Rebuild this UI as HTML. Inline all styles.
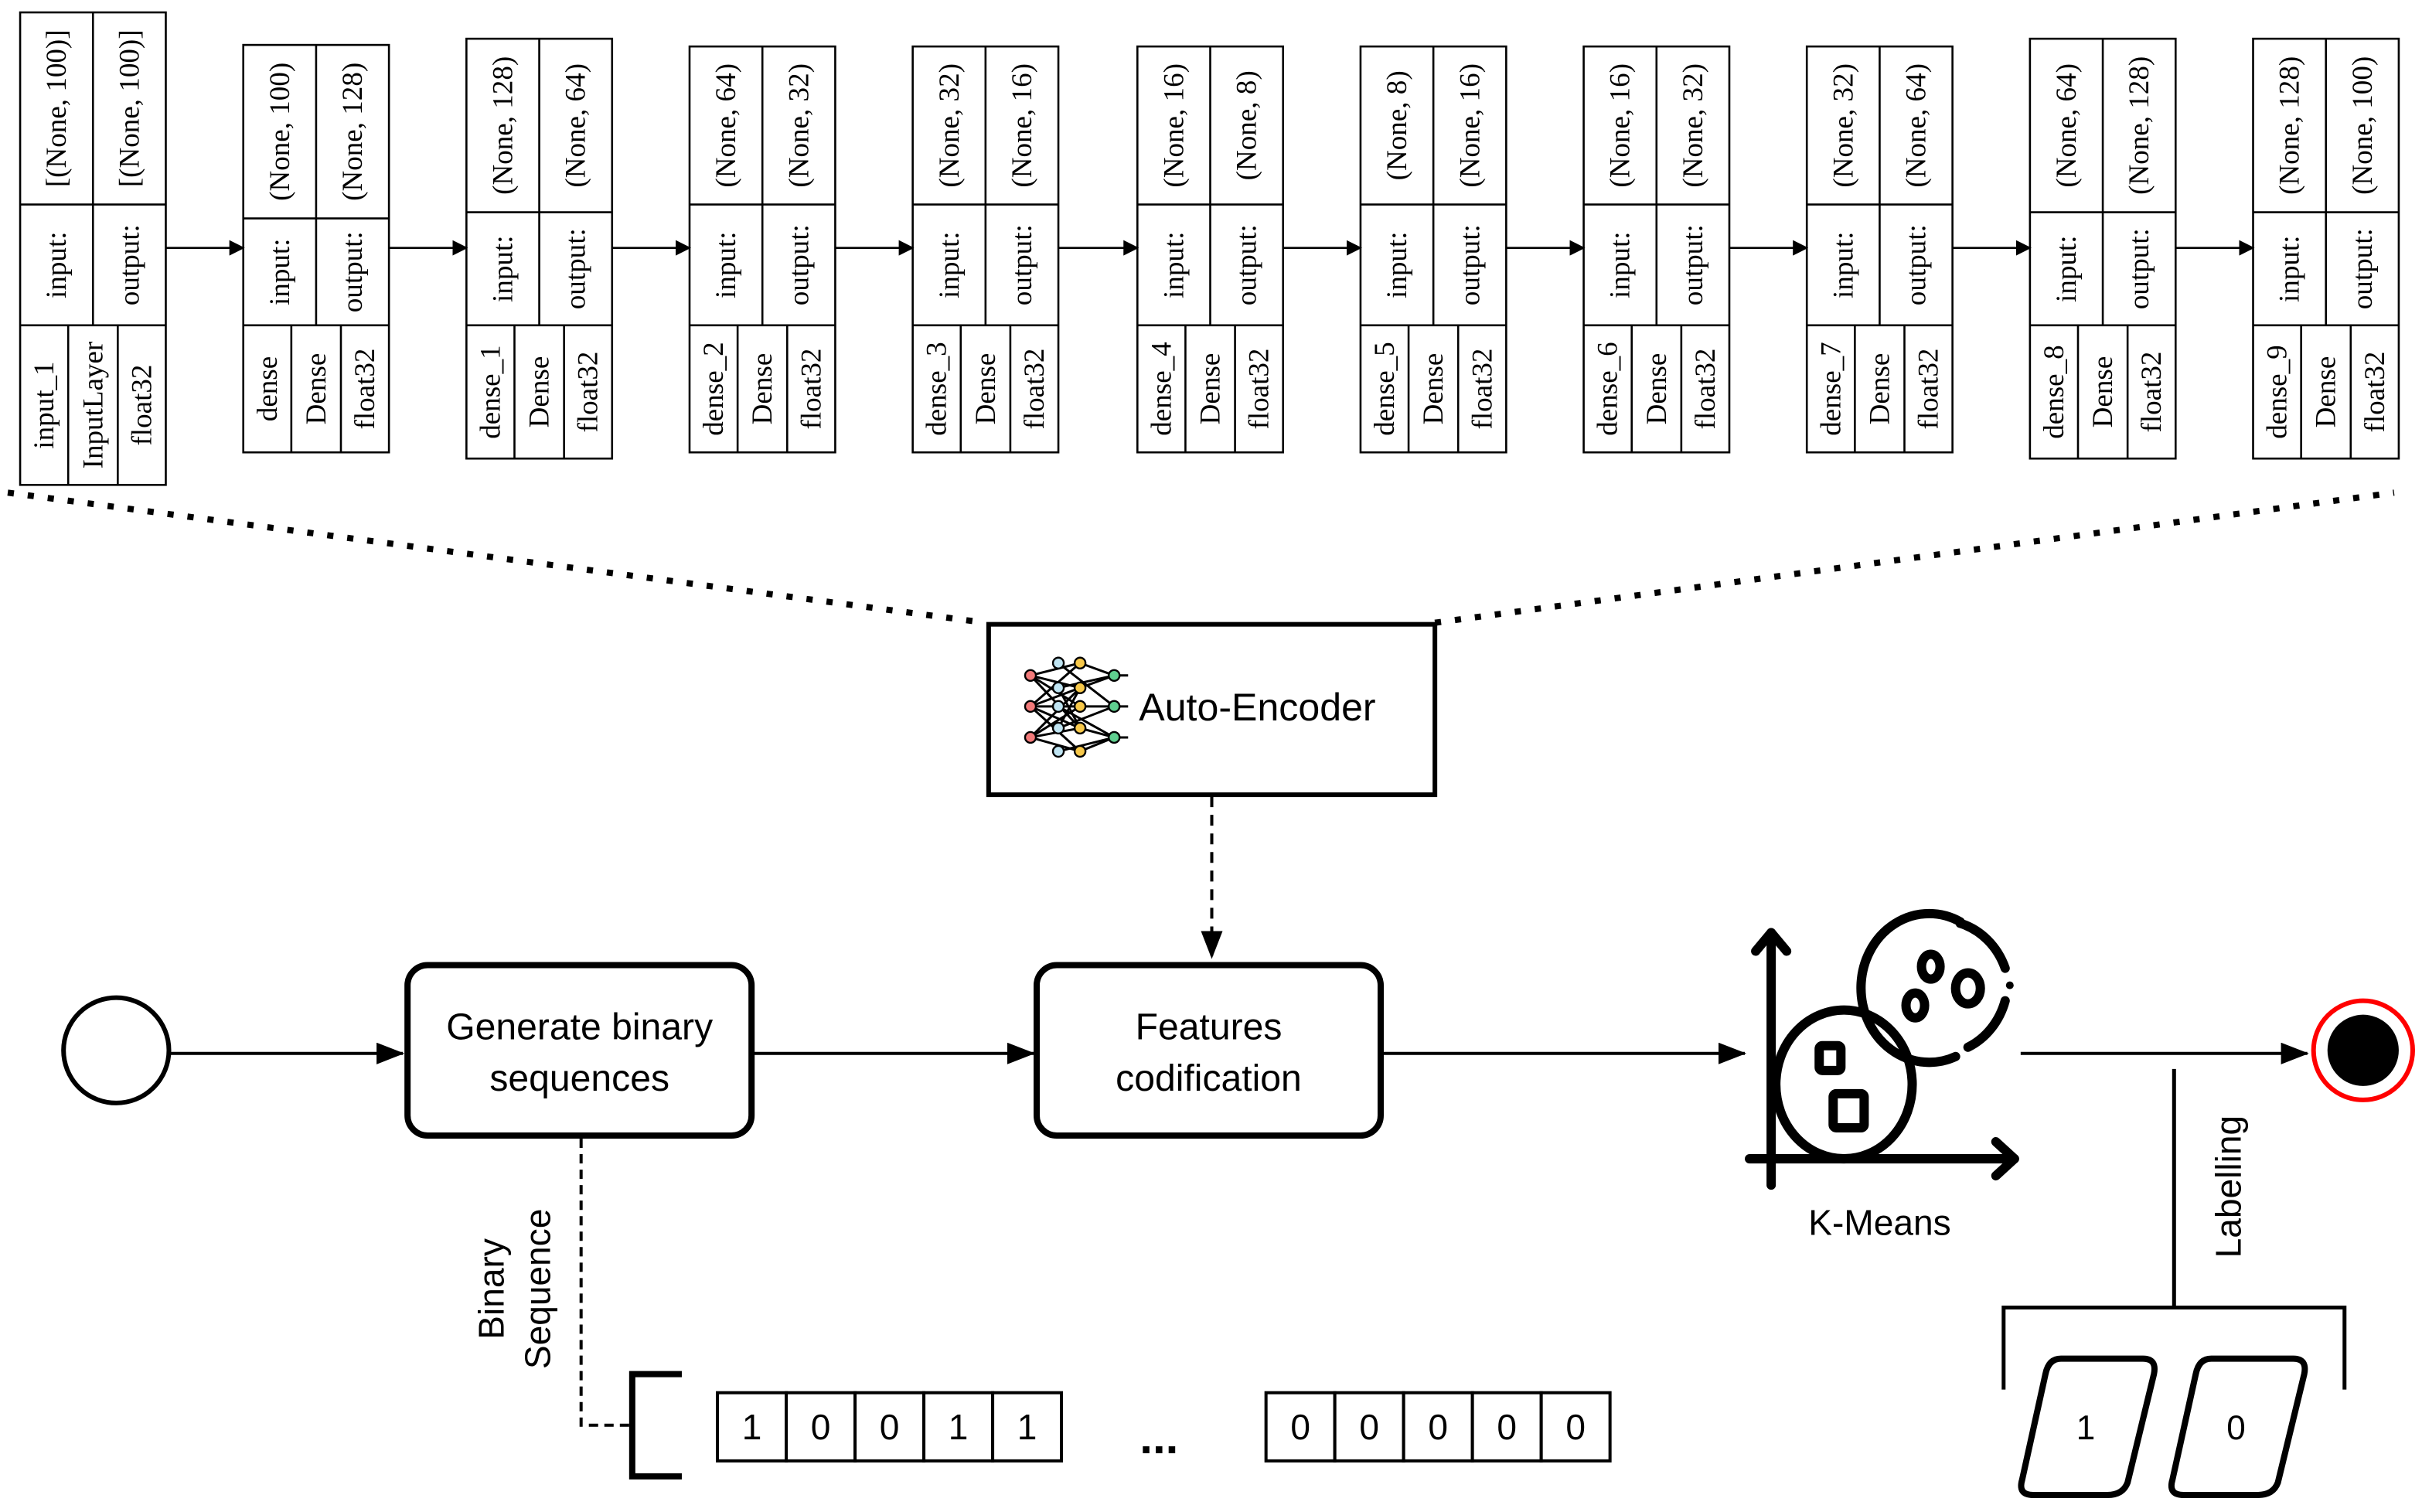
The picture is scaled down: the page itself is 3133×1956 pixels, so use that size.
<!DOCTYPE html>
<html><head><meta charset="utf-8"><style>
html,body{margin:0;padding:0;background:#fff;}
svg{display:block;}
.s{font-family:"Liberation Serif",serif;font-size:18.5px;}
.a{font-family:"Liberation Sans",sans-serif;}
</style></head><body>
<svg id="g" width="3133" height="1956" viewBox="0 0 1563 976" preserveAspectRatio="none" xmlns="http://www.w3.org/2000/svg">
<defs>
<marker id="ah" markerWidth="10" markerHeight="10" refX="9" refY="5" orient="auto" markerUnits="userSpaceOnUse"><path d="M0,0 L10,5 L0,10 z" fill="#000"/></marker>
<marker id="ah2" markerWidth="18" markerHeight="14" refX="17" refY="7" orient="auto" markerUnits="userSpaceOnUse"><path d="M0,0 L18,7 L0,14 z" fill="#000"/></marker>
</defs>
<g id="keras"></g>
<line x1="5" y1="318" x2="636" y2="402" stroke="#000" stroke-width="4" stroke-dasharray="4 9"/>
<line x1="926" y1="402" x2="1545" y2="318" stroke="#000" stroke-width="4" stroke-dasharray="4 9"/>
<rect x="638" y="403" width="288" height="110" fill="#fff" stroke="#000" stroke-width="3"/>
<g stroke="#000" stroke-width="1.5">
<line x1="665" y1="436" x2="697" y2="428"/><line x1="665" y1="436" x2="697" y2="444"/><line x1="665" y1="436" x2="697" y2="456"/><line x1="665" y1="436" x2="697" y2="470"/>
<line x1="665" y1="456" x2="697" y2="428"/><line x1="665" y1="456" x2="697" y2="444"/><line x1="665" y1="456" x2="697" y2="456"/><line x1="665" y1="456" x2="697" y2="470"/><line x1="665" y1="456" x2="697" y2="485"/>
<line x1="665" y1="476" x2="697" y2="444"/><line x1="665" y1="476" x2="697" y2="456"/><line x1="665" y1="476" x2="697" y2="470"/><line x1="665" y1="476" x2="697" y2="485"/>
<line x1="683" y1="428" x2="719" y2="456"/><line x1="683" y1="444" x2="719" y2="436"/><line x1="683" y1="456" x2="719" y2="476"/><line x1="683" y1="470" x2="719" y2="456"/><line x1="683" y1="485" x2="719" y2="476"/>
<line x1="697" y1="428" x2="719" y2="436"/><line x1="697" y1="444" x2="719" y2="436"/><line x1="697" y1="456" x2="719" y2="456"/><line x1="697" y1="470" x2="719" y2="476"/><line x1="697" y1="485" x2="719" y2="476"/>
<line x1="697" y1="444" x2="683" y2="470"/><line x1="697" y1="470" x2="683" y2="444"/>
<line x1="719" y1="436" x2="728" y2="436"/><line x1="719" y1="456" x2="728" y2="456"/><line x1="719" y1="476" x2="728" y2="476"/>
</g>
<g stroke="#000" stroke-width="1.2">
<circle cx="665" cy="436" r="3.5" fill="#f27a7a"/><circle cx="665" cy="456" r="3.5" fill="#f27a7a"/><circle cx="665" cy="476" r="3.5" fill="#f27a7a"/>
<circle cx="683" cy="428" r="3.5" fill="#bfe4f2"/><circle cx="683" cy="444" r="3.5" fill="#bfe4f2"/><circle cx="683" cy="456" r="3.5" fill="#bfe4f2"/><circle cx="683" cy="470" r="3.5" fill="#bfe4f2"/><circle cx="683" cy="485" r="3.5" fill="#bfe4f2"/>
<circle cx="697" cy="428" r="3.5" fill="#f7c84a"/><circle cx="697" cy="444" r="3.5" fill="#f7c84a"/><circle cx="697" cy="456" r="3.5" fill="#f7c84a"/><circle cx="697" cy="470" r="3.5" fill="#f7c84a"/><circle cx="697" cy="485" r="3.5" fill="#f7c84a"/>
<circle cx="719" cy="436" r="3.5" fill="#5fcf8f"/><circle cx="719" cy="456" r="3.5" fill="#5fcf8f"/><circle cx="719" cy="476" r="3.5" fill="#5fcf8f"/>
</g>
<text x="735" y="465" class="a" font-size="25">Auto-Encoder</text>
<line x1="782" y1="514" x2="782" y2="618" stroke="#000" stroke-width="2" stroke-dasharray="7 5" marker-end="url(#ah2)"/>
<circle cx="75" cy="678" r="34" fill="#fff" stroke="#000" stroke-width="3"/>
<line x1="109" y1="680" x2="260" y2="680" stroke="#000" stroke-width="2" marker-end="url(#ah2)"/>
<rect x="263" y="623" width="222" height="110" rx="13" fill="#fff" stroke="#000" stroke-width="4"/>
<text x="374" y="671" class="a" font-size="24" text-anchor="middle">Generate binary</text>
<text x="374" y="704" class="a" font-size="24" text-anchor="middle">sequences</text>
<line x1="485" y1="680" x2="667" y2="680" stroke="#000" stroke-width="2" marker-end="url(#ah2)"/>
<rect x="669" y="623" width="222" height="110" rx="13" fill="#fff" stroke="#000" stroke-width="4"/>
<text x="780" y="671" class="a" font-size="24" text-anchor="middle">Features</text>
<text x="780" y="704" class="a" font-size="24" text-anchor="middle">codification</text>
<line x1="891" y1="680" x2="1126" y2="680" stroke="#000" stroke-width="2" marker-end="url(#ah2)"/>
<g fill="none" stroke="#000" stroke-width="6" stroke-linecap="round" stroke-linejoin="round">
<line x1="1143" y1="765" x2="1143" y2="602"/><polyline points="1133,614 1143,602 1153,614"/>
<line x1="1129" y1="748" x2="1300" y2="748"/><polyline points="1288,737 1300,748 1288,759"/>
<ellipse cx="1190" cy="700" rx="44" ry="48"/>
<path d="M1265,595 A44,48 0 1 0 1262,682"/>
<path d="M1265,596 A44,48 0 0 1 1294,625" />
<path d="M1294,646 A44,48 0 0 1 1270,676"/>
<rect x="1174" y="675" width="14" height="16" rx="2"/>
<rect x="1183" y="706" width="20" height="22" rx="2"/>
<ellipse cx="1246" cy="624" rx="6" ry="8"/>
<ellipse cx="1236" cy="649" rx="6" ry="8"/>
<ellipse cx="1270" cy="638" rx="8" ry="10"/>
</g>
<circle cx="1297" cy="636" r="2.5" fill="#000"/>
<text x="1213" y="797" class="a" font-size="23" text-anchor="middle">K-Means</text>
<line x1="1304" y1="680" x2="1489" y2="680" stroke="#000" stroke-width="2" marker-end="url(#ah2)"/>
<circle cx="1525" cy="678" r="32" fill="#fff" stroke="#f00" stroke-width="3"/>
<circle cx="1525" cy="678" r="23" fill="#000"/>
<line x1="1403" y1="690" x2="1403" y2="843" stroke="#000" stroke-width="2.5"/>
<polyline points="1293,897 1293,844 1513,844 1513,897" fill="none" stroke="#000" stroke-width="2.5"/>
<text transform="translate(1446,766) rotate(-90)" class="a" font-size="23" text-anchor="middle">Labelling</text>
<path d="M1330,877 L1383,877 Q1392,877 1390,887 L1373,957 Q1370,965 1360,965 L1312,965 Q1302,965 1305,955 L1320,887 Q1322,877 1330,877 z" fill="#fff" stroke="#000" stroke-width="4"/>
<path d="M1427,877 L1480,877 Q1489,877 1487,887 L1470,957 Q1467,965 1457,965 L1409,965 Q1399,965 1402,955 L1417,887 Q1419,877 1427,877 z" fill="#fff" stroke="#000" stroke-width="4"/>
<text x="1346" y="929" class="a" font-size="22" text-anchor="middle">1</text>
<text x="1443" y="929" class="a" font-size="22" text-anchor="middle">0</text>
<polyline points="375,735 375,920 407,920" fill="none" stroke="#000" stroke-width="2" stroke-dasharray="6 4"/>
<polyline points="440,887 408,887 408,953 440,953" fill="none" stroke="#000" stroke-width="4"/>
<text transform="translate(325,832) rotate(-90)" class="a" font-size="23" text-anchor="middle">Binary</text>
<text transform="translate(355,832) rotate(-90)" class="a" font-size="23" text-anchor="middle">Sequence</text>
<g id="cells"></g>
<text x="748" y="938" class="a" font-size="30" text-anchor="middle" font-weight="bold">...</text>
</svg>
<script>
var NS="http://www.w3.org/2000/svg";
function el(p,t,a,txt){var e=document.createElementNS(NS,t);for(var k in a)e.setAttribute(k,a[k]);if(txt!==undefined)e.textContent=txt;p.appendChild(e);return e;}
var K=document.getElementById('keras');
var B=[
[13,8,132,210,313,'input_1','InputLayer','[(None, 100)]','[(None, 100)]'],
[157,29,141,210,292,'dense','Dense','(None, 100)','(None, 128)'],
[301,25,137,210,296,'dense_1','Dense','(None, 128)','(None, 64)'],
[445,30,132,210,292,'dense_2','Dense','(None, 64)','(None, 32)'],
[589,30,132,210,292,'dense_3','Dense','(None, 32)','(None, 16)'],
[734,30,132,210,292,'dense_4','Dense','(None, 16)','(None, 8)'],
[878,30,132,210,292,'dense_5','Dense','(None, 8)','(None, 16)'],
[1022,30,132,210,292,'dense_6','Dense','(None, 16)','(None, 32)'],
[1166,30,132,210,292,'dense_7','Dense','(None, 32)','(None, 64)'],
[1310,25,137,210,296,'dense_8','Dense','(None, 64)','(None, 128)'],
[1454,25,137,210,296,'dense_9','Dense','(None, 128)','(None, 100)']];
function vt(x,y,s){el(K,'text',{'class':'s',transform:'translate('+(x+6)+','+y+') rotate(-90)','text-anchor':'middle'},s);}
B.forEach(function(b,i){
 var x=b[0],w=94,y0=b[1],y1=b[2],y2=b[3],y3=b[4];
 var st={fill:'none',stroke:'#000','stroke-width':1.3};
 el(K,'rect',Object.assign({x:x,y:y0,width:w,height:y3-y0},st));
 el(K,'line',Object.assign({x1:x,y1:y1,x2:x+w,y2:y1},st));
 el(K,'line',Object.assign({x1:x,y1:y2,x2:x+w,y2:y2},st));
 el(K,'line',Object.assign({x1:x+47,y1:y0,x2:x+47,y2:y2},st));
 el(K,'line',Object.assign({x1:x+31,y1:y2,x2:x+31,y2:y3},st));
 el(K,'line',Object.assign({x1:x+63,y1:y2,x2:x+63,y2:y3},st));
 vt(x+23.5,(y0+y1)/2,b[7]); vt(x+70.5,(y0+y1)/2,b[8]);
 vt(x+23.5,(y1+y2)/2,'input:'); vt(x+70.5,(y1+y2)/2,'output:');
 vt(x+15.5,(y2+y3)/2,b[5]); vt(x+47,(y2+y3)/2,b[6]); vt(x+78.5,(y2+y3)/2,'float32');
 if(i<B.length-1){el(K,'line',{x1:x+w,y1:160,x2:B[i+1][0],y2:160,stroke:'#000','stroke-width':1.3,'marker-end':'url(#ah)'});}
});
var C=document.getElementById('cells');
function row(x0,vals){var cw=44.4;vals.forEach(function(v,i){var x=x0+i*cw;el(C,'rect',{x:x,y:899,width:cw,height:44,fill:'#fff',stroke:'#000','stroke-width':2});el(C,'text',{x:x+cw/2,y:929,'class':'a','font-size':23,'text-anchor':'middle'},v);});}
row(463,['1','0','0','1','1']);row(817,['0','0','0','0','0']);
</script>
</body></html>
